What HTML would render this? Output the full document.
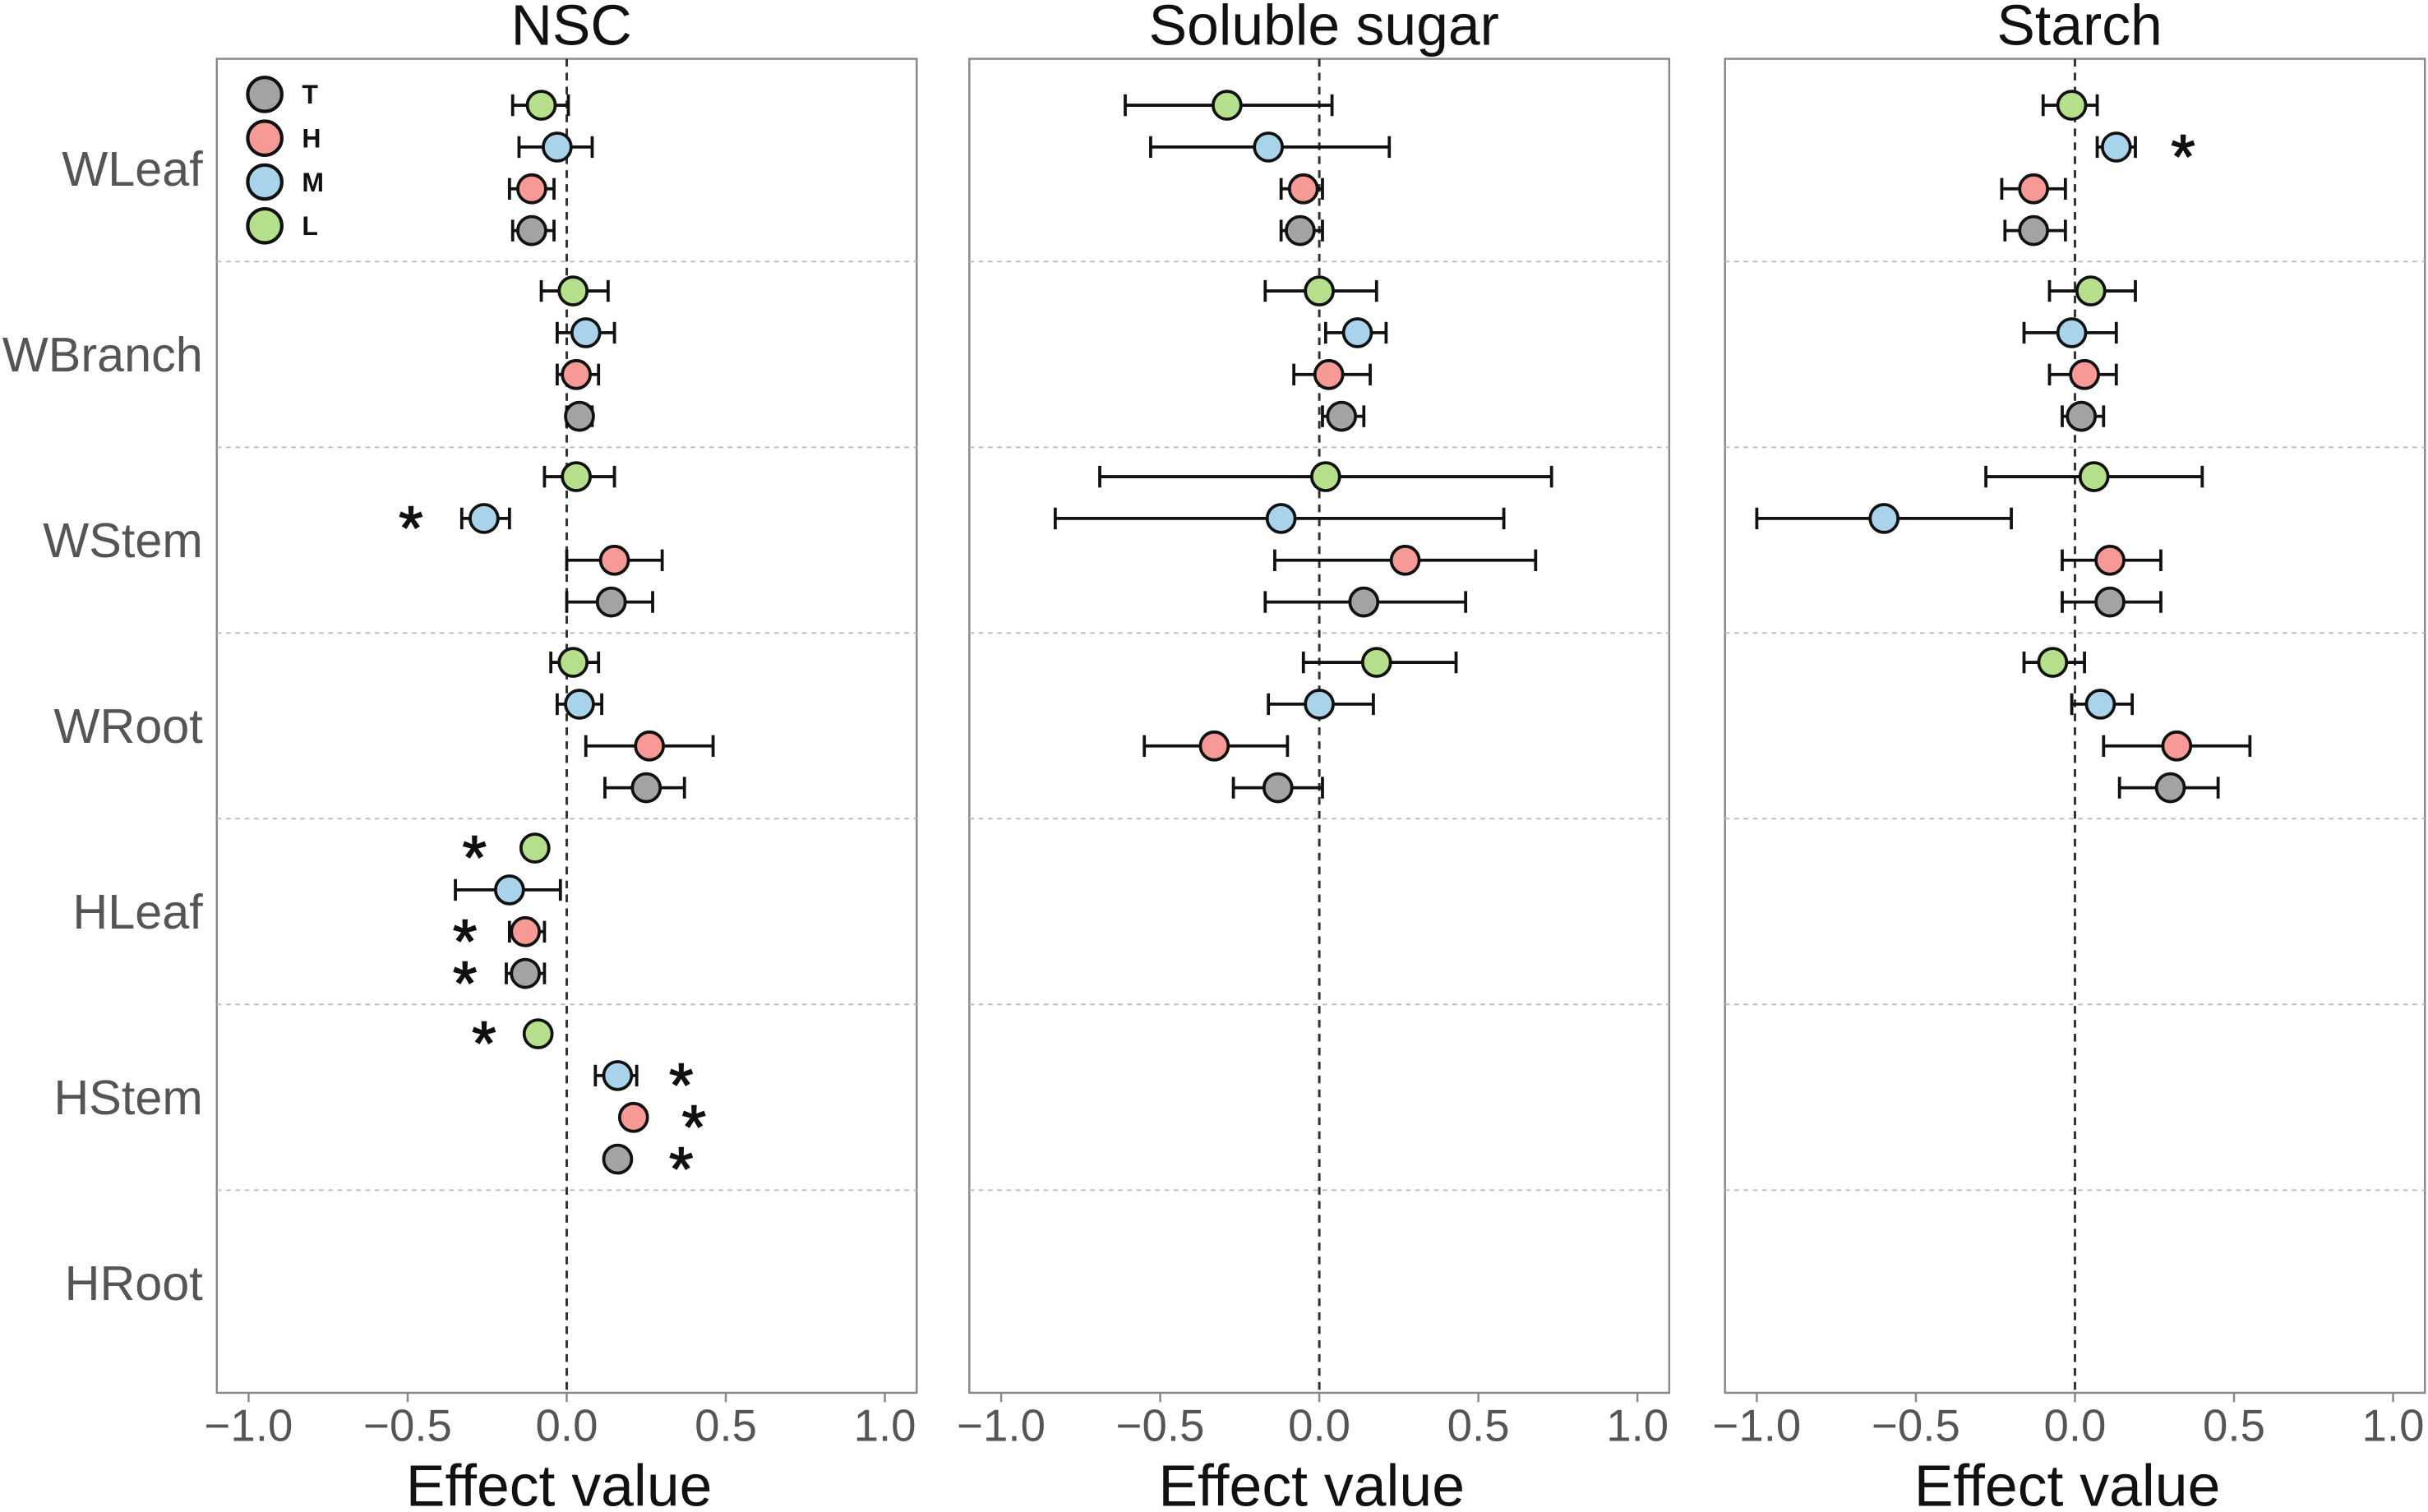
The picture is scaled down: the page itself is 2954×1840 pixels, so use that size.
<!DOCTYPE html>
<html><head><meta charset="utf-8"><style>
html,body{margin:0;padding:0;background:#fff}
svg{display:block}
text{font-family:"Liberation Sans",Arial,sans-serif}
</style></head><body>
<svg id="chart" width="2954" height="1840" viewBox="0 0 1568 977" preserveAspectRatio="none" xmlns="http://www.w3.org/2000/svg"></svg>
<script>
const groups = ["WLeaf","WBranch","WStem","WRoot","HLeaf","HStem","HRoot"];
const levels = ["L","M","H","T"];
const panelTitles = ["NSC","Soluble sugar","Starch"];
const xTicks = [-1.0,-0.5,0.0,0.5,1.0];
const xTickLabels = ["\u22121.0","\u22120.5","0.0","0.5","1.0"];
// values per group: [L, M, H, T]
const nscMean = [[-0.08,-0.03,-0.11,-0.11],[0.02,0.06,0.03,0.04],[0.03,-0.26,0.15,0.14],[0.02,0.04,0.26,0.25],[-0.10,-0.18,-0.13,-0.13],[-0.09,0.16,0.21,0.16],[null,null,null,null]];
const nscLo = [[-0.17,-0.15,-0.18,-0.17],[-0.08,-0.03,-0.03,0.0],[-0.07,-0.33,0.0,0.0],[-0.05,-0.03,0.06,0.12],[null,-0.35,-0.18,-0.19],[null,0.09,null,null],[null,null,null,null]];
const nscHi = [[0.005,0.08,-0.04,-0.04],[0.13,0.15,0.10,0.08],[0.15,-0.18,0.30,0.27],[0.10,0.11,0.46,0.37],[null,-0.02,-0.07,-0.07],[null,0.22,null,null],[null,null,null,null]];
const nscStar = [[0,0,0,0],[0,0,0,0],[0,-0.49,0,0],[0,0,0,0],[-0.29,0,-0.32,-0.32],[-0.26,0.36,0.40,0.36],[0,0,0,0]];
const sugMean = [[-0.29,-0.16,-0.05,-0.06],[0.0,0.12,0.03,0.07],[0.02,-0.12,0.27,0.14],[0.18,0.0,-0.33,-0.13],[null,null,null,null],[null,null,null,null],[null,null,null,null]];
const sugLo = [[-0.61,-0.53,-0.12,-0.12],[-0.17,0.02,-0.08,0.01],[-0.69,-0.83,-0.14,-0.17],[-0.05,-0.16,-0.55,-0.27],[null,null,null,null],[null,null,null,null],[null,null,null,null]];
const sugHi = [[0.04,0.22,0.01,0.01],[0.18,0.21,0.16,0.14],[0.73,0.58,0.68,0.46],[0.43,0.17,-0.10,0.01],[null,null,null,null],[null,null,null,null],[null,null,null,null]];
const sugStar = [[0,0,0,0],[0,0,0,0],[0,0,0,0],[0,0,0,0],[0,0,0,0],[0,0,0,0],[0,0,0,0]];
const staMean = [[-0.01,0.13,-0.13,-0.13],[0.05,-0.01,0.03,0.02],[0.06,-0.60,0.11,0.11],[-0.07,0.08,0.32,0.30],[null,null,null,null],[null,null,null,null],[null,null,null,null]];
const staLo = [[-0.10,0.07,-0.23,-0.22],[-0.08,-0.16,-0.08,-0.04],[-0.28,-1.0,-0.04,-0.04],[-0.16,-0.01,0.09,0.14],[null,null,null,null],[null,null,null,null],[null,null,null,null]];
const staHi = [[0.07,0.19,-0.03,-0.03],[0.19,0.13,0.13,0.09],[0.40,-0.20,0.27,0.27],[0.03,0.18,0.55,0.45],[null,null,null,null],[null,null,null,null],[null,null,null,null]];
const staStar = [[0,0.34,0,0],[0,0,0,0],[0,0,0,0],[0,0,0,0],[0,0,0,0],[0,0,0,0],[0,0,0,0]];

const colors = {L:"#b5df8b",M:"#a8d3ea",H:"#f79995",T:"#a3a3a3"};
const NS="http://www.w3.org/2000/svg";
const svg=document.getElementById('chart');
function mk(tag,attrs,parent){const e=document.createElementNS(NS,tag);for(const k in attrs)e.setAttribute(k,attrs[k]);(parent||svg).appendChild(e);return e;}
const panels=[{x0:140,mean:nscMean,lo:nscLo,hi:nscHi,star:nscStar},{x0:626,mean:sugMean,lo:sugLo,hi:sugHi,star:sugStar},{x0:1114,mean:staMean,lo:staLo,hi:staHi,star:staStar}];
const PW=452,PT=38,PB=900;
function yPos(g,k){return 68+g*120+k*27;}
panels.forEach((p,pi)=>{
  const xs=v=>p.x0+(v+1.1)/2.2*PW;
  const g=mk('g',{});
  
  
  const fr=mk('rect',{x:p.x0,y:PT,width:PW,height:PB-PT,fill:'none',stroke:'#888','stroke-width':1.3},g);
  
  
  for(let i=1;i<groups.length;i++){
    const l=mk('line',{x1:p.x0,x2:p.x0+PW,y1:169+(i-1)*120,y2:169+(i-1)*120,stroke:'#bbb','stroke-dasharray':'3,3','stroke-width':1},g);
    
    
  }
  const z=mk('line',{x1:xs(0),x2:xs(0),y1:PT,y2:PB,stroke:'#333','stroke-dasharray':'5,4','stroke-width':1.6},g);
  
  
  const t=mk('text',{x:p.x0+PW/2+3,y:29,'font-size':37,'text-anchor':'middle',fill:'#111'},g);
  t.textContent=panelTitles[pi];
  
  
  xTicks.forEach((v,i)=>{
    const tk=mk('line',{x1:xs(v),x2:xs(v),y1:PB,y2:PB+6,stroke:'#888','stroke-width':1.3},g);
    
    
    const tl=mk('text',{x:xs(v),y:931,'font-size':29,'text-anchor':'middle',fill:'#555'},g);
    tl.textContent=xTickLabels[i];
    
    
  });
  const at=mk('text',{x:p.x0+PW/2-5,y:973,'font-size':38,'text-anchor':'middle',fill:'#111'},g);
  at.textContent='Effect value';
  
  
  groups.forEach((gn,gi)=>{
    levels.forEach((lv,k)=>{
      const m=p.mean[gi][k]; if(m===null) return;
      const y=yPos(gi,k);
      const lo=p.lo[gi][k],hi=p.hi[gi][k];
      if(lo!==null&&hi!==null){
        const eb=mk('path',{d:`M${xs(lo)},${y}H${xs(hi)}M${xs(lo)},${y-7}V${y+7}M${xs(hi)},${y-7}V${y+7}`,stroke:'#111','stroke-width':2,fill:'none'},g);
        
        
      }
      const c=mk('circle',{cx:xs(m),cy:y,r:9,fill:colors[lv],stroke:'#111','stroke-width':2},g);
      
      
      const s=p.star[gi][k];
      if(s){
        const st=mk('text',{x:xs(s),y:y+20,'font-size':40,'text-anchor':'middle',fill:'#111',stroke:'#111','stroke-width':0.8},g);
        st.textContent='*';
        
        
      }
    });
  });
});
groups.forEach((gn,gi)=>{
  const yl=mk('text',{x:131,y:120+gi*120,'font-size':31.5,'text-anchor':'end',fill:'#555'});
  yl.textContent=gn;
  
  
});
const legOrder=["T","H","M","L"];
legOrder.forEach((lv,i)=>{
  const y=61+i*28.3;
  const c=mk('circle',{cx:171,cy:y,r:11,fill:colors[lv],stroke:'#111','stroke-width':2.2});
  
  
  const t=mk('text',{x:195,y:y+6,'font-size':17,'font-weight':'bold',fill:'#111'});
  t.textContent=lv;
  
  
});
</script>
</body></html>
